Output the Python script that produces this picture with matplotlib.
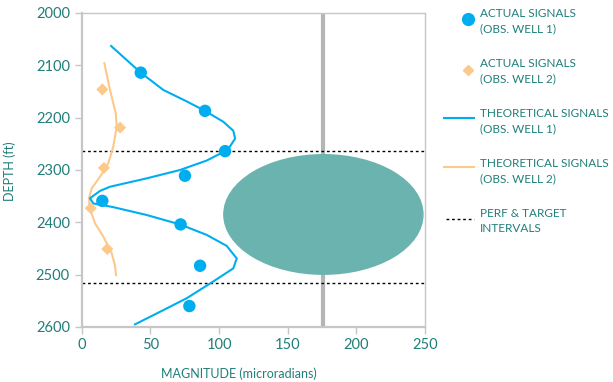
import numpy as np
import matplotlib
matplotlib.use("Agg")
import matplotlib.pyplot as plt
from matplotlib.patches import Ellipse
from matplotlib.lines import Line2D

# ── Data ──────────────────────────────────────────────────────────────────────
# actual signals, observation well 1 (magnitude, depth)
well1_mag   = [43, 89.8, 104.4, 75.2, 15, 72, 86.2, 78.4]
well1_depth = [2114, 2187, 2264, 2311, 2359, 2404, 2483, 2560]

# actual signals, observation well 2
well2_mag   = [15, 27.9, 16.2, 6.6, 18.6]
well2_depth = [2146, 2219, 2296, 2373, 2451]

# theoretical signals, well 1 (traced curve)
theo1_mag   = [21.4, 32.8, 43, 59.4, 76.5, 89.8, 103.2, 110.4, 111.7, 108, 104.4,
               91, 71.6, 47.3, 20.6, 13.3, 6, 8.5, 23, 47.3, 71.6, 91, 105.6,
               112.9, 110.4, 95.8, 76.5, 57, 38.8]
theo1_depth = [2063, 2090, 2114, 2147, 2169, 2187, 2208, 2225, 2240, 2255, 2264,
               2282, 2300, 2316, 2332, 2340, 2354, 2364, 2371, 2386, 2404, 2424, 2445,
               2469, 2488, 2513, 2545, 2571, 2595]

# theoretical signals, well 2 (traced curve)
theo2_mag   = [16.5, 20.6, 24.8, 25.5, 23, 19.4, 13.3, 7.3, 5.5, 5.5, 9.7,
               15.7, 21.8, 24.2, 25]
theo2_depth = [2096, 2147, 2192, 2217, 2255, 2287, 2313, 2335, 2352, 2370, 2402,
               2427, 2459, 2482, 2501]

perf_depths = [2264, 2515]       # perf & target interval bounds
well_x      = 175.5              # vertical line (well)
zone_center = (176, 2385)        # ellipse (magnitude, depth)
zone_size   = (146, 231)

xticks = [0, 50, 100, 150, 200, 250]
yticks = [2000, 2100, 2200, 2300, 2400, 2500, 2600]

legend_labels = ["ACTUAL SIGNALS\n(OBS. WELL 1)",
                 "ACTUAL SIGNALS\n(OBS. WELL 2)",
                 "THEORETICAL SIGNALS\n(OBS. WELL 1)",
                 "THEORETICAL SIGNALS\n(OBS. WELL 2)",
                 "PERF & TARGET\nINTERVALS"]

# ── Style ─────────────────────────────────────────────────────────────────────
TEAL   = "#1f7f79"
BLUE   = "#00aeef"
ORANGE = "#fdc98a"
ZONE   = "#6ab3af"
GRID   = "#c6c6c6"
plt.rcParams["font.family"] = ["Lato", "DejaVu Sans"]

fig = plt.figure(figsize=(6.13, 3.82), dpi=100)
ax = fig.add_axes([0.1333, 0.144, 0.56, 0.822])

ax.add_patch(Ellipse(zone_center, zone_size[0], zone_size[1],
                     facecolor=ZONE, edgecolor="none", zorder=1))
ax.axvline(well_x, color="#b5b5b8", lw=3, zorder=0.5)
for d in perf_depths:
    ax.axhline(d, color="black", lw=1, ls=(0, (2, 2)), zorder=2)

ax.plot(theo2_mag, theo2_depth, color=ORANGE, lw=1.5, zorder=3)
ax.plot(theo1_mag, theo1_depth, color=BLUE, lw=1.5, zorder=3)
ax.scatter(well2_mag, well2_depth, marker="D", s=38, color=ORANGE,
           edgecolor="none", zorder=4)
ax.scatter(well1_mag, well1_depth, marker="o", s=80, color=BLUE,
           edgecolor="none", zorder=4)

ax.set_xlim(0, 250)
ax.set_ylim(2600, 2000)
ax.set_xticks(xticks)
ax.set_yticks(yticks)
for s in ax.spines.values():
    s.set_color(GRID)
    s.set_linewidth(1)
ax.spines["left"].set_linewidth(1.6)
ax.spines["bottom"].set_linewidth(1.6)
ax.tick_params(colors=GRID, labelcolor=TEAL, labelsize=10.5, length=5, width=1)
ax.tick_params(axis="x", pad=3)
ax.set_xlabel("MAGNITUDE (microradians)", color=TEAL, fontsize=9)
ax.xaxis.set_label_coords(0.458, -0.13)
ax.set_ylabel("DEPTH (ft)", color=TEAL, fontsize=9)
ax.yaxis.set_label_coords(-0.19, 0.497)

# ── Legend, drawn by hand in figure pixels ────────────────────────────────────
W, H = 613.0, 382.0
def fx(px): return px / W
def fy(py): return 1 - py / H

entry_y = [21, 71, 121, 171, 221]
handles = [
    Line2D([fx(468)], [fy(entry_y[0] - 2)], marker="o", ms=8.5, color=BLUE, ls="none"),
    Line2D([fx(468)], [fy(entry_y[1] - 1)], marker="D", ms=5.5, color=ORANGE, ls="none"),
    Line2D([fx(444), fx(474)], [fy(entry_y[2] - 3)] * 2, color=BLUE, lw=1.5),
    Line2D([fx(444), fx(474)], [fy(entry_y[3] - 4)] * 2, color=ORANGE, lw=1.5),
    Line2D([fx(446), fx(474)], [fy(entry_y[4] - 2)] * 2, color="black", lw=1,
           ls=(0, (2, 2))),
]
for h in handles:
    h.set_transform(fig.transFigure)
    fig.add_artist(h)
for y, lab in zip(entry_y, legend_labels):
    fig.text(fx(480), fy(y), lab, color=TEAL, fontsize=8.5, va="center",
             ha="left", linespacing=1.5)

fig.savefig("out.png", dpi=100)
